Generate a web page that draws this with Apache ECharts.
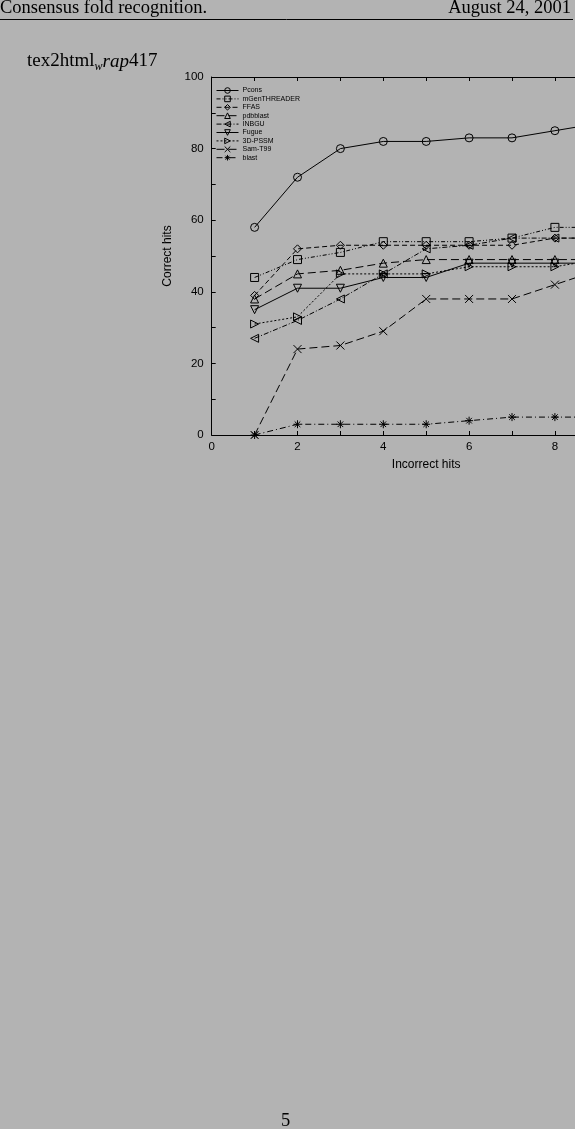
<!DOCTYPE html>
<html>
<head>
<meta charset="utf-8">
<script src="https://cdn.jsdelivr.net/npm/echarts@6/dist/echarts.min.js"></script>
<style>
html,body{margin:0;padding:0;background:#b3b3b3;overflow:hidden;width:575px;height:1129px;}
#c{width:700px;height:1129px;}
</style>
</head>
<body>
<div id="c"></div>
<script>
// ---- data ----
var xValues = [1, 2, 3, 4, 5, 6, 7, 8, 9];
var seriesNames = ['Pcons', 'mGenTHREADER', 'FFAS', 'pdbblast', 'INBGU', 'Fugue', '3D-PSSM', 'Sam-T99', 'blast'];
var pcons       = [58, 72, 80, 82, 82, 83, 83, 85, 87];
var mgenthreader= [44, 49, 51, 54, 54, 54, 55, 58, 58];
var ffas        = [39, 52, 53, 53, 53, 53, 53, 55, 55];
var pdbblast    = [38, 45, 46, 48, 49, 49, 49, 49, 49];
var inbgu       = [27, 32, 38, 45, 52, 53, 55, 55, 55];
var fugue       = [35, 41, 41, 44, 44, 48, 48, 48, 48];
var pssm3d      = [31, 33, 45, 45, 45, 47, 47, 47, 49];
var samt99      = [0, 24, 25, 29, 38, 38, 38, 42, 46];
var blast       = [0, 3, 3, 3, 3, 4, 5, 5, 5];
var xTickLabels = ['0', '2', '4', '6', '8', '10'];
var yTickLabels = ['0', '20', '40', '60', '80', '100'];

var allValues = [pcons, mgenthreader, ffas, pdbblast, inbgu, fugue, pssm3d, samt99, blast];

// ---- styles ----
var BG = '#b3b3b3';
var styles = [
  {symbol: 'circle', rotate: 0, dash: 'solid'},
  {symbol: 'rect', rotate: 0, dash: [4, 2, 1, 2, 1, 2]},
  {symbol: 'diamond', rotate: 0, dash: [5, 3]},
  {symbol: 'triangle', rotate: 0, dash: [8, 4]},
  {symbol: 'triangle', rotate: 90, dash: [5, 2, 1, 2]},
  {symbol: 'triangle', rotate: 180, dash: 'solid'},
  {symbol: 'triangle', rotate: -90, dash: [2, 2]},
  {symbol: 'path://M0,0L10,10M10,0L0,10', rotate: 0, dash: [8, 4]},
  {symbol: 'path://M5,0L5,10M0,5L10,5M1.5,1.5L8.5,8.5M8.5,1.5L1.5,8.5', rotate: 0, dash: [6, 3, 1, 3]}
];

var series = seriesNames.map(function (name, i) {
  var vals = allValues[i];
  return {
    name: name,
    type: 'line',
    data: xValues.map(function (x, j) { return [x, vals[j]]; }),
    symbol: styles[i].symbol,
    symbolRotate: styles[i].rotate,
    symbolSize: 8,
    showAllSymbol: true,
    clip: true,
    lineStyle: {color: '#000', width: 1, type: styles[i].dash},
    itemStyle: {color: 'rgba(0,0,0,0)', borderColor: '#000', borderWidth: 1},
    emphasis: {disabled: true}
  };
});

var sans = 'Liberation Sans, Arial, sans-serif';
var serif = 'Liberation Serif, Times New Roman, serif';

var chart = echarts.init(document.getElementById('c'), null, {renderer: 'canvas'});
chart.setOption({
  backgroundColor: BG,
  animation: false,
  grid: {left: 211.7, top: 77, width: 429, height: 358, containLabel: false},
  legend: {
    orient: 'vertical',
    left: 216,
    top: 87,
    padding: 0,
    itemWidth: 22,
    itemHeight: 7,
    itemGap: 1.4,
    data: seriesNames,
    itemStyle: {color: 'rgba(0,0,0,0)', borderColor: '#000', borderWidth: 1},
    lineStyle: {width: 1, color: '#000'},
    textStyle: {fontFamily: sans, fontSize: 7, lineHeight: 7, color: '#000', padding: [0, 0, 0, -1]},
    selectedMode: false
  },
  xAxis: [{
    type: 'value', min: 0, max: 10, interval: 1,
    name: 'Incorrect hits', nameLocation: 'middle', nameGap: 24,
    nameTextStyle: {fontFamily: sans, fontSize: 12, color: '#000'},
    axisLine: {show: true, lineStyle: {color: '#000', width: 1}},
    axisTick: {show: true, inside: true, length: 4, lineStyle: {color: '#000'}},
    axisLabel: {
      fontFamily: sans, fontSize: 11.5, color: '#000', margin: 6,
      formatter: function (v) { var i = xTickLabels.indexOf(String(v)); return i >= 0 ? xTickLabels[i] : ''; }
    },
    splitLine: {show: false}
  }, {
    type: 'value', min: 0, max: 10, interval: 1, position: 'top',
    axisLine: {show: true, onZero: false, lineStyle: {color: '#000', width: 1}},
    axisTick: {show: true, inside: true, length: 4, lineStyle: {color: '#000'}},
    axisLabel: {show: false}, splitLine: {show: false}
  }],
  yAxis: [{
    type: 'value', min: 0, max: 100, interval: 10,
    name: 'Correct hits', nameLocation: 'middle', nameGap: 37, nameRotate: 90,
    nameTextStyle: {fontFamily: sans, fontSize: 12, color: '#000'},
    axisLine: {show: true, lineStyle: {color: '#000', width: 1}},
    axisTick: {show: true, inside: true, length: 4, lineStyle: {color: '#000'}},
    axisLabel: {
      fontFamily: sans, fontSize: 11.5, color: '#000', margin: 8,
      formatter: function (v) { var i = yTickLabels.indexOf(String(v)); return i >= 0 ? yTickLabels[i] : ''; }
    },
    splitLine: {show: false}
  }, {
    type: 'value', min: 0, max: 100, interval: 10, position: 'right',
    axisLine: {show: true, onZero: false, lineStyle: {color: '#000', width: 1}},
    axisTick: {show: true, inside: true, length: 4, lineStyle: {color: '#000'}},
    axisLabel: {show: false}, splitLine: {show: false}
  }],
  series: series,
  graphic: [
    {type: 'text', left: 0, top: -1, style: {text: 'Consensus fold recognition.', fontFamily: serif, fontSize: 18.5, fill: '#000'}},
    {type: 'text', right: 129, top: -1, style: {text: 'August 24, 2001', fontFamily: serif, fontSize: 18.5, fill: '#000'}},
    {type: 'line', shape: {x1: 0, y1: 19.5, x2: 573, y2: 19.5}, style: {stroke: '#000', lineWidth: 1}},
    {type: 'text', left: 27, top: 52, style: {
      text: '{n|tex2html}{s|w}{i|rap}{n|417}',
      rich: {
        n: {fontFamily: serif, fontSize: 19, lineHeight: 22, verticalAlign: 'middle', fill: '#000'},
        s: {fontFamily: serif, fontSize: 12, fontStyle: 'italic', lineHeight: 12, verticalAlign: 'bottom', fill: '#000'},
        i: {fontFamily: serif, fontSize: 19, fontStyle: 'italic', lineHeight: 22, verticalAlign: 'middle', fill: '#000'}
      }
    }},
    {type: 'text', left: 281, top: 1112, style: {text: '5', fontFamily: serif, fontSize: 18.5, fill: '#000'}}
  ]
});
</script>
</body>
</html>
